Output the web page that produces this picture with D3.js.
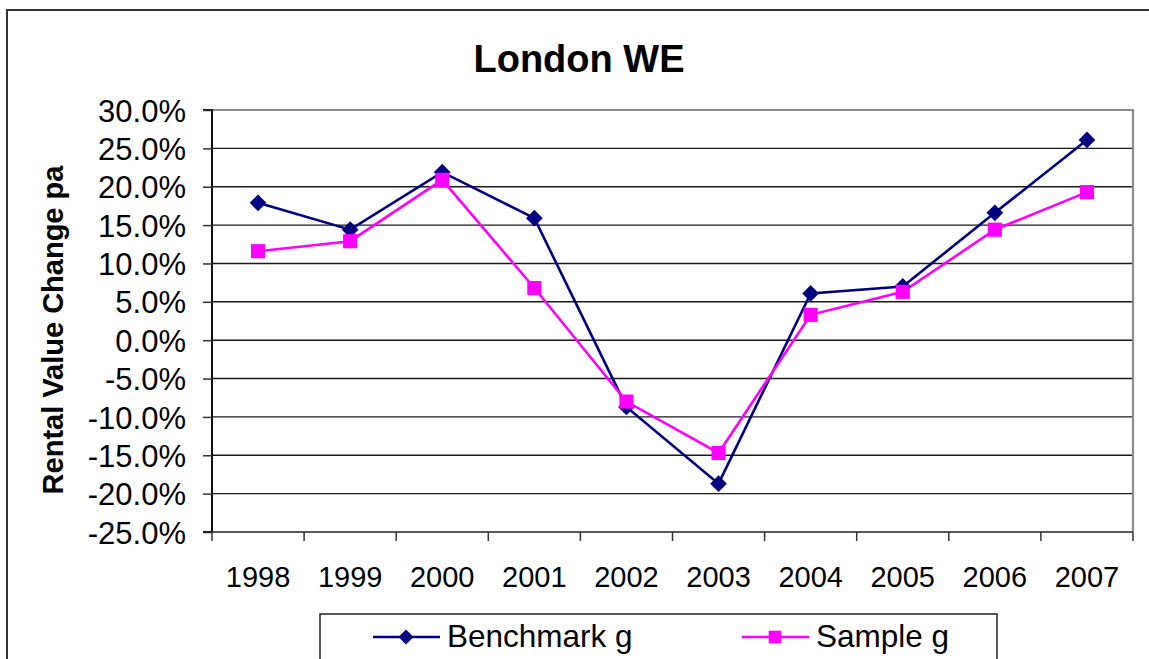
<!DOCTYPE html>
<html>
<head>
<meta charset="utf-8">
<script src="https://cdn.jsdelivr.net/npm/d3@7"></script>
<style>
  body { margin: 0; background: #fff; }
  text { font-family: "Liberation Sans", Arial, sans-serif; }
</style>
</head>
<body>
<div id="chart"></div>
<script>
// data
var years = ["1998", "1999", "2000", "2001", "2002", "2003", "2004", "2005", "2006", "2007"];
var benchmark = [17.9, 14.4, 21.9, 15.9, -8.7, -18.7, 6.1, 7.0, 16.6, 26.1];
var sample = [11.6, 12.9, 20.9, 6.8, -8.0, -14.7, 3.3, 6.3, 14.4, 19.3];
var yTicks = [-25, -20, -15, -10, -5, 0, 5, 10, 15, 20, 25, 30];

var W = 1149, H = 659;
var plot = {left: 212, right: 1133, top: 110, bottom: 532};

var svg = d3.select("#chart")
  .append("svg")
    .attr("width", W)
    .attr("height", H);

// outer chart border (runs off the right / bottom edge)
svg.append("rect")
  .attr("x", 7).attr("y", 10)
  .attr("width", 1170).attr("height", 700)
  .attr("fill", "none")
  .attr("stroke", "#333")
  .attr("stroke-width", 2);

var x = d3.scaleBand()
  .domain(years)
  .range([plot.left, plot.right])
  .padding(0);

var y = d3.scaleLinear()
  .domain([-25, 30])
  .range([plot.bottom, plot.top]);

// gridlines
svg.append("g")
  .selectAll("line")
  .data(yTicks.filter(d => d !== 30 && d !== -25))
  .enter()
  .append("line")
    .attr("x1", plot.left)
    .attr("x2", plot.right)
    .attr("y1", d => y(d))
    .attr("y2", d => y(d))
    .style("stroke", "#1a1a1a")
    .style("stroke-width", 1.4);

// plot frame top + right (grey)
svg.append("path")
  .attr("d", `M${plot.left},${y(30)}H${plot.right}V${plot.bottom}`)
  .attr("fill", "none")
  .attr("stroke", "#8c8c8c")
  .attr("stroke-width", 2.2);

// y axis
var yAxis = svg.append("g")
  .attr("transform", `translate(${plot.left},0)`)
  .call(d3.axisLeft(y)
    .tickValues(yTicks)
    .tickSize(9)
    .tickPadding(17)
    .tickFormat(d => d.toFixed(1) + "%"));
yAxis.select(".domain").attr("stroke", "#111").attr("stroke-width", 2).attr("d", `M-9,${y(30)}H0V${plot.bottom}H-9`);
yAxis.selectAll(".tick line").attr("stroke", "#333").attr("stroke-width", 1.5);
yAxis.selectAll("text")
  .attr("fill", "#000")
  .style("font-size", "31px")
  .attr("dy", "0.36em");

// x axis: baseline, ticks at category boundaries
svg.append("line")
  .attr("x1", plot.left - 9).attr("x2", plot.right)
  .attr("y1", plot.bottom).attr("y2", plot.bottom)
  .style("stroke", "#222").style("stroke-width", 1.6);

var bounds = years.map(d => x(d)).concat([plot.right]);
svg.append("g")
  .selectAll("line")
  .data(bounds)
  .enter()
  .append("line")
    .attr("x1", d => d).attr("x2", d => d)
    .attr("y1", plot.bottom).attr("y2", plot.bottom + 9)
    .style("stroke", "#333")
    .style("stroke-width", 1.5);

svg.append("g")
  .selectAll("text")
  .data(years)
  .enter()
  .append("text")
    .attr("x", d => x(d) + x.bandwidth() / 2)
    .attr("y", 587)
    .attr("text-anchor", "middle")
    .style("font-size", "29px")
    .text(d => d);

// the two series (diamond = square turned 45deg)
var series = [
  {name: "Benchmark g", values: benchmark, color: "#000080", size: 140, rot: 45},
  {name: "Sample g", values: sample, color: "#ff00ff", size: 200, rot: 0}
];

var line = d3.line()
  .x((d, i) => x(years[i]) + x.bandwidth() / 2)
  .y(d => y(d));

series.forEach(function(s) {
  svg.append("path")
    .datum(s.values)
    .attr("d", line)
    .attr("fill", "none")
    .attr("stroke", s.color)
    .attr("stroke-width", 2.6);
});

series.forEach(function(s) {
  svg.append("g")
    .selectAll("path")
    .data(s.values)
    .enter()
    .append("path")
      .attr("d", d3.symbol().type(d3.symbolSquare).size(s.size))
      .attr("transform", (d, i) => `translate(${x(years[i]) + x.bandwidth() / 2},${y(d)}) rotate(${s.rot})`)
      .attr("fill", s.color);
});

// title
svg.append("text")
  .attr("x", 579)
  .attr("y", 72)
  .attr("text-anchor", "middle")
  .style("font-size", "38px")
  .style("font-weight", "bold")
  .text("London WE");

// y axis title
svg.append("text")
  .attr("transform", "translate(63,330) rotate(-90)")
  .attr("text-anchor", "middle")
  .style("font-size", "29px")
  .style("font-weight", "bold")
  .text("Rental Value Change pa");

// legend
var legend = svg.append("g").attr("class", "legend");
legend.append("rect")
  .attr("x", 320).attr("y", 614)
  .attr("width", 677).attr("height", 80)
  .attr("fill", "#fff")
  .attr("stroke", "#222")
  .attr("stroke-width", 1.5);

var lx = [373, 742];
series.forEach(function(s, i) {
  var g = legend.append("g").attr("transform", `translate(${lx[i]},637)`);
  g.append("line")
    .attr("x1", 0).attr("x2", 67)
    .attr("y1", 0).attr("y2", 0)
    .attr("stroke", s.color).attr("stroke-width", 2.6);
  g.append("path")
    .attr("d", d3.symbol().type(d3.symbolSquare).size(s.size * 0.8))
    .attr("transform", `translate(33,0) rotate(${s.rot})`)
    .attr("fill", s.color);
  g.append("text")
    .attr("x", 74)
    .attr("y", 10)
    .style("font-size", "31.5px")
    .text(s.name);
});
</script>
</body>
</html>
